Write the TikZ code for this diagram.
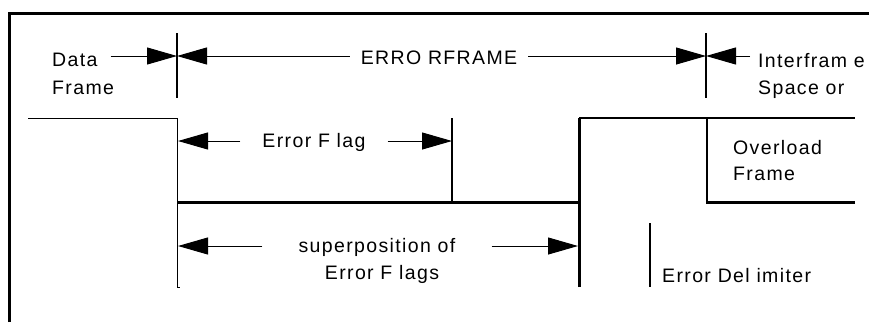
\documentclass[tikz,border=0pt]{standalone}
\usepackage{fontspec}
\setmainfont{Liberation Sans}[LetterSpace=7]
\usetikzlibrary{arrows.meta, positioning}

\begin{document}
\begin{tikzpicture}[
    x=1pt, y=-1pt,
    lbl/.style={inner sep=0pt, font=\fontsize{19.5}{27}\selectfont},
    dim/.style={-{Triangle[length=30pt, width=17pt]}, line width=1pt},
    bar/.style={line width=2.5pt},
    sigthin/.style={line width=1pt},
    sigmid/.style={line width=2pt},
    sigthick/.style={line width=3pt}
]
    \useasboundingbox (0,0) rectangle (869,322);

    % Outer frame
    \draw[sigthick] (9,322) -- (9,13) -- (869,13);

    % Frame boundaries
    \coordinate (barA) at (177,56);
    \coordinate (barB) at (706,56);
    \draw[bar] (177,33) -- (177,98);
    \draw[bar] (706,33) -- (706,98);

    % Top labels
    \node[lbl, anchor=base west, inner xsep=13pt] (data) at (39,66) {Data};
    \node[lbl, anchor=base west] (dataB) at (52,94) {Frame};
    \node[lbl, anchor=base, inner xsep=11pt] (errFrame) at (439,64) {ERRO RFRAME};
    \node[lbl, anchor=base west, inner xsep=8pt] (ifs) at (750,67) {Interfram e};
    \node[lbl, anchor=base west] (ifsB) at (758,94) {Space or};

    % Top arrows
    \draw[dim] (data.east |- barA) -- (barA);
    \draw[dim] (errFrame.west |- barA) -- (barA);
    \draw[dim] (errFrame.east |- barB) -- (barB);
    \draw[dim] (ifs.west |- barB) -- (barB);

    % Bus levels
    \draw[sigthin] (28,118) -- (177,118) -- (177,287) -- (180,287);
    \draw[sigthick] (177,202) -- (579,202);
    \draw[sigmid] (452,118) -- (452,202);
    \draw[sigthick] (579,287) -- (579,118);
    \draw[sigmid] (579,118) -- (855,118);
    \draw[sigmid] (707,118) -- (707,202);
    \draw[sigthick] (706,202) -- (855,202);
    \draw[sigmid] (650,223) -- (650,287);

    % Error flag
    \coordinate (flagL) at (178,141);
    \coordinate (flagR) at (452,141);
    \node[lbl, anchor=base, inner xsep=22pt] (flag) at (314,147) {Error F lag};
    \draw[dim] (flag.west |- flagL) -- (flagL);
    \draw[dim] (flag.east |- flagR) -- (flagR);

    % Superposition
    \coordinate (supL) at (178,246);
    \coordinate (supR) at (578,246);
    \node[lbl, anchor=base, inner xsep=36pt] (sup) at (377,252) {superposition of};
    \node[lbl, anchor=base] (supB) at (382,279) {Error F lags};
    \draw[dim] (sup.west |- supL) -- (supL);
    \draw[dim] (sup.east |- supR) -- (supR);

    % Right labels
    \node[lbl, anchor=base west] (ovl) at (733,154) {Overload};
    \node[lbl, anchor=base west] (ovlB) at (733,180) {Frame};
    \node[lbl, anchor=base west] (delim) at (662,282) {Error Del imiter};

\end{tikzpicture}
\end{document}
